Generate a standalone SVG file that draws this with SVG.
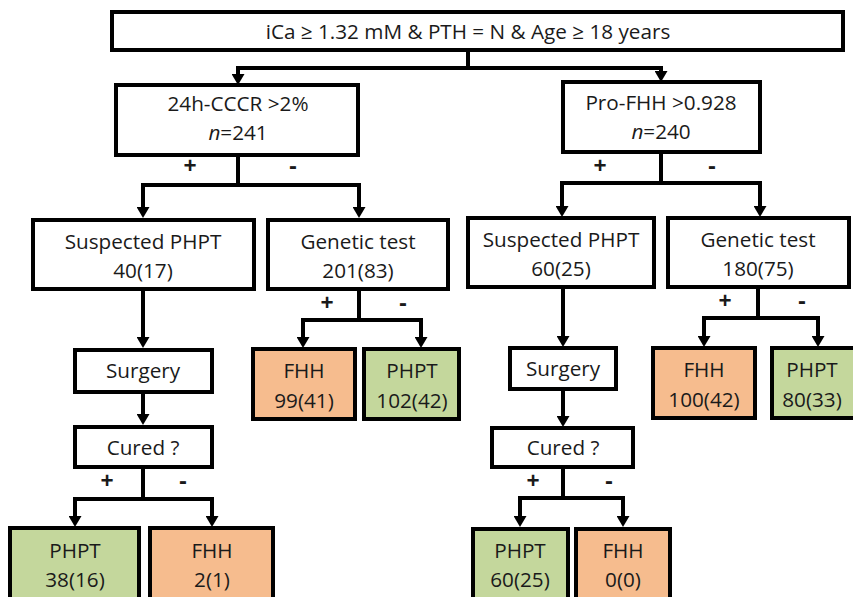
<svg xmlns="http://www.w3.org/2000/svg" width="853" height="597" viewBox="0 0 853 597">
<defs>
<marker id="arr" viewBox="0 0 11 13" refX="0" refY="6.5" markerWidth="11" markerHeight="13" markerUnits="userSpaceOnUse" orient="auto">
<path d="M0,0 L11,6.5 L0,13 z" fill="#000"/>
</marker>
<style>
.w,.o,.g{stroke:#000;stroke-width:4}
.w{fill:#fff}
.o{fill:#F6BC8E}
.g{fill:#C4D79C}
text{font-family:"Open Sans","Liberation Sans",sans-serif;font-size:20.7px;fill:#1a1a1a;text-anchor:middle}
.s{font-weight:bold;font-size:23px}
#connectors path{fill:none;stroke:#000;stroke-width:4;stroke-linejoin:miter;marker-end:url(#arr)}
</style>
</defs>
<rect width="853" height="597" fill="#fff"/>
<g id="connectors">
<path d="M468,50 V68 H238 V74"/>
<path d="M468,68 H661 V71"/>
<path d="M238,155 V185 H143 V207"/>
<path d="M238,185 H359 V207"/>
<path d="M661,152 V183 H562 V206"/>
<path d="M661,183 H760 V206"/>
<path d="M143,289 V337"/>
<path d="M563,287 V336"/>
<path d="M143,392 V414"/>
<path d="M563,389 V416"/>
<path d="M359,289 V320 H303 V337"/>
<path d="M359,320 H421 V337"/>
<path d="M758,287 V318 H704 V336"/>
<path d="M758,318 H818 V336"/>
<path d="M143,467 V499 H75 V516"/>
<path d="M143,499 H212 V516"/>
<path d="M563,467 V498 H520 V516"/>
<path d="M563,498 H623 V516"/>
</g>
<g id="labels">
<text class="s" x="190" y="174">+</text>
<text class="s" x="293" y="174">-</text>
<text class="s" x="600" y="174">+</text>
<text class="s" x="712" y="174">-</text>
<text class="s" x="327" y="311">+</text>
<text class="s" x="403" y="311">-</text>
<text class="s" x="725" y="309">+</text>
<text class="s" x="802" y="309">-</text>
<text class="s" x="107" y="489">+</text>
<text class="s" x="183" y="489">-</text>
<text class="s" x="533" y="489">+</text>
<text class="s" x="609" y="489">-</text>
</g>
<g id="top"><rect class="w" x="112" y="12" width="731" height="38"/><text x="468" y="39">iCa ≥ 1.32 mM &amp; PTH = N &amp; Age ≥ 18 years</text></g>
<g id="cccr"><rect class="w" x="116" y="85" width="242" height="70"/><text x="238" y="111">24h-CCCR &gt;2%</text><text x="238" y="140"><tspan font-style="italic">n</tspan>=241</text></g>
<g id="profhh"><rect class="w" x="563" y="82" width="197" height="70"/><text x="661" y="110">Pro-FHH &gt;0.928</text><text x="661" y="139"><tspan font-style="italic">n</tspan>=240</text></g>
<g id="susp1"><rect class="w" x="33" y="220" width="221" height="69"/><text x="143" y="249">Suspected PHPT</text><text x="143" y="278">40(17)</text></g>
<g id="gen1"><rect class="w" x="268" y="220" width="180" height="69"/><text x="358" y="249">Genetic test</text><text x="358" y="278">201(83)</text></g>
<g id="susp2"><rect class="w" x="468" y="218" width="186" height="69"/><text x="561" y="247">Suspected PHPT</text><text x="561" y="276">60(25)</text></g>
<g id="gen2"><rect class="w" x="668" y="218" width="181" height="69"/><text x="758" y="247">Genetic test</text><text x="758" y="276">180(75)</text></g>
<g id="surg1"><rect class="w" x="75" y="350" width="137" height="42"/><text x="143" y="378">Surgery</text></g>
<g id="surg2"><rect class="w" x="510" y="348" width="106" height="41"/><text x="563" y="376">Surgery</text></g>
<g id="cured1"><rect class="w" x="75" y="427" width="137" height="40"/><text x="143" y="455">Cured ?</text></g>
<g id="cured2"><rect class="w" x="492" y="428" width="141" height="39"/><text x="563" y="455">Cured ?</text></g>
<g id="fhh1"><rect class="o" x="253" y="349" width="102" height="70"/><text x="304" y="378">FHH</text><text x="304" y="408">99(41)</text></g>
<g id="phpt1"><rect class="g" x="364" y="349" width="95" height="70"/><text x="412" y="378">PHPT</text><text x="412" y="408">102(42)</text></g>
<g id="fhh2"><rect class="o" x="653" y="348" width="102" height="70"/><text x="704" y="377">FHH</text><text x="704" y="407">100(42)</text></g>
<g id="phpt2"><rect class="g" x="772" y="348" width="84" height="70"/><text x="812" y="377">PHPT</text><text x="812" y="407">80(33)</text></g>
<g id="phpt3"><rect class="g" x="10" y="528" width="129" height="72"/><text x="75" y="558">PHPT</text><text x="75" y="587">38(16)</text></g>
<g id="fhh3"><rect class="o" x="150" y="528" width="123" height="72"/><text x="212" y="558">FHH</text><text x="212" y="587">2(1)</text></g>
<g id="phpt4"><rect class="g" x="473" y="529" width="95" height="71"/><text x="520" y="558">PHPT</text><text x="520" y="587">60(25)</text></g>
<g id="fhh4"><rect class="o" x="576" y="529" width="94" height="71"/><text x="623" y="558">FHH</text><text x="623" y="587">0(0)</text></g>
</svg>
